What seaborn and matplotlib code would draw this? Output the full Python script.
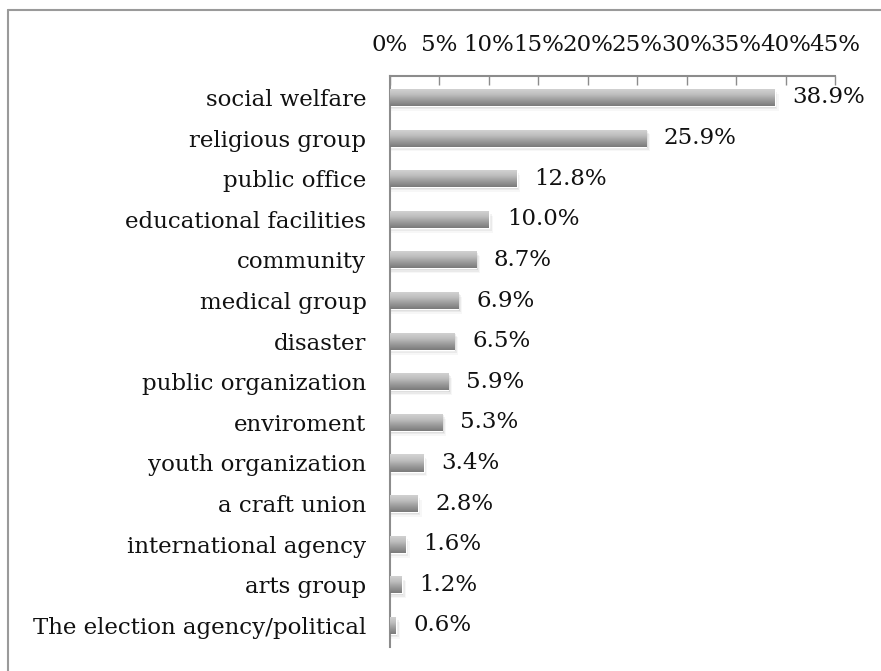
import numpy as np
import pandas as pd
import matplotlib
matplotlib.use("Agg")
import matplotlib.pyplot as plt
import seaborn as sns
from matplotlib.colors import LinearSegmentedColormap
from matplotlib.patches import Rectangle

categories = [
    "social welfare", "religious group", "public office", "educational facilities",
    "community", "medical group", "disaster", "public organization", "enviroment",
    "youth organization", "a craft union", "international agency", "arts group",
    "The election agency/political",
]
shares = [38.9, 25.9, 12.8, 10.0, 8.7, 6.9, 6.5, 5.9, 5.3, 3.4, 2.8, 1.6, 1.2, 0.6]
tick_values = [0, 5, 10, 15, 20, 25, 30, 35, 40, 45]

df = pd.DataFrame({"category": categories, "share": shares})

sns.set_theme(style="white")
plt.rcParams["font.family"] = ["DejaVu Serif"]
FS = 16.5

W, H = 881, 671
fig = plt.figure(figsize=(W / 100, H / 100), dpi=100)
ax = fig.add_axes([390 / W, 1 - 647 / H, 445 / W, (647 - 75.5) / H])

bar_h = 0.42
sns.barplot(data=df, x="share", y="category", orient="h", color="#9a9a9a",
            width=bar_h, ax=ax, zorder=2)

# vertical gradient + soft shadow on each bar
grad = LinearSegmentedColormap.from_list(
    "bar", ["#d4d4d4", "#c0c0c0", "#9c9c9c", "#7a7a7a"])
g = np.linspace(0, 1, 64).reshape(-1, 1)
for p in list(ax.patches):
    x0, y0 = p.get_x(), p.get_y()
    w, h = p.get_width(), p.get_height()
    for k, a in enumerate([0.07, 0.05, 0.03]):
        off = 0.04 + 0.04 * k
        ax.add_patch(Rectangle((x0, y0 + off), w + 0.15 + 0.12 * k, h, facecolor="#000000",
                               alpha=a, edgecolor="none", zorder=1))
    im = ax.imshow(g, cmap=grad, aspect="auto", extent=(x0, x0 + w, y0 + h, y0),
                   zorder=3, interpolation="bicubic")
    im.set_clip_path(p)
    ax.text(x0 + w + 1.8, y0 + h / 2, f"{w:.1f}%", va="center", ha="left",
            fontsize=FS, color="#111111")

ax.set_xlim(0, 45)
ax.set_ylim(len(categories) - 0.47, -0.54)
ax.xaxis.tick_top()
ax.set_xticks(tick_values)
ax.set_xticklabels([f"{v}%" for v in tick_values], fontsize=FS, color="#111111")
ax.tick_params(axis="x", direction="in", length=6.5, width=1, color="#8c8c8c",
               pad=14, top=True, bottom=False)
ax.tick_params(axis="y", length=0, pad=17, labelsize=FS, labelcolor="#111111")
ax.set_xlabel("")
ax.set_ylabel("")
for s in ["right", "bottom"]:
    ax.spines[s].set_visible(False)
for s in ["top", "left"]:
    ax.spines[s].set_color("#8c8c8c")
    ax.spines[s].set_linewidth(1.5)
ax.grid(False)

# outer frame (left and top edges visible)
fig.add_artist(plt.Line2D([7.5 / W, 7.5 / W], [0, 1 - 10 / H], transform=fig.transFigure,
                          color="#9a9a9a", lw=1.5))
fig.add_artist(plt.Line2D([7.5 / W, 1], [1 - 10 / H, 1 - 10 / H], transform=fig.transFigure,
                          color="#9a9a9a", lw=1.5))

fig.savefig("out.png", dpi=100)
